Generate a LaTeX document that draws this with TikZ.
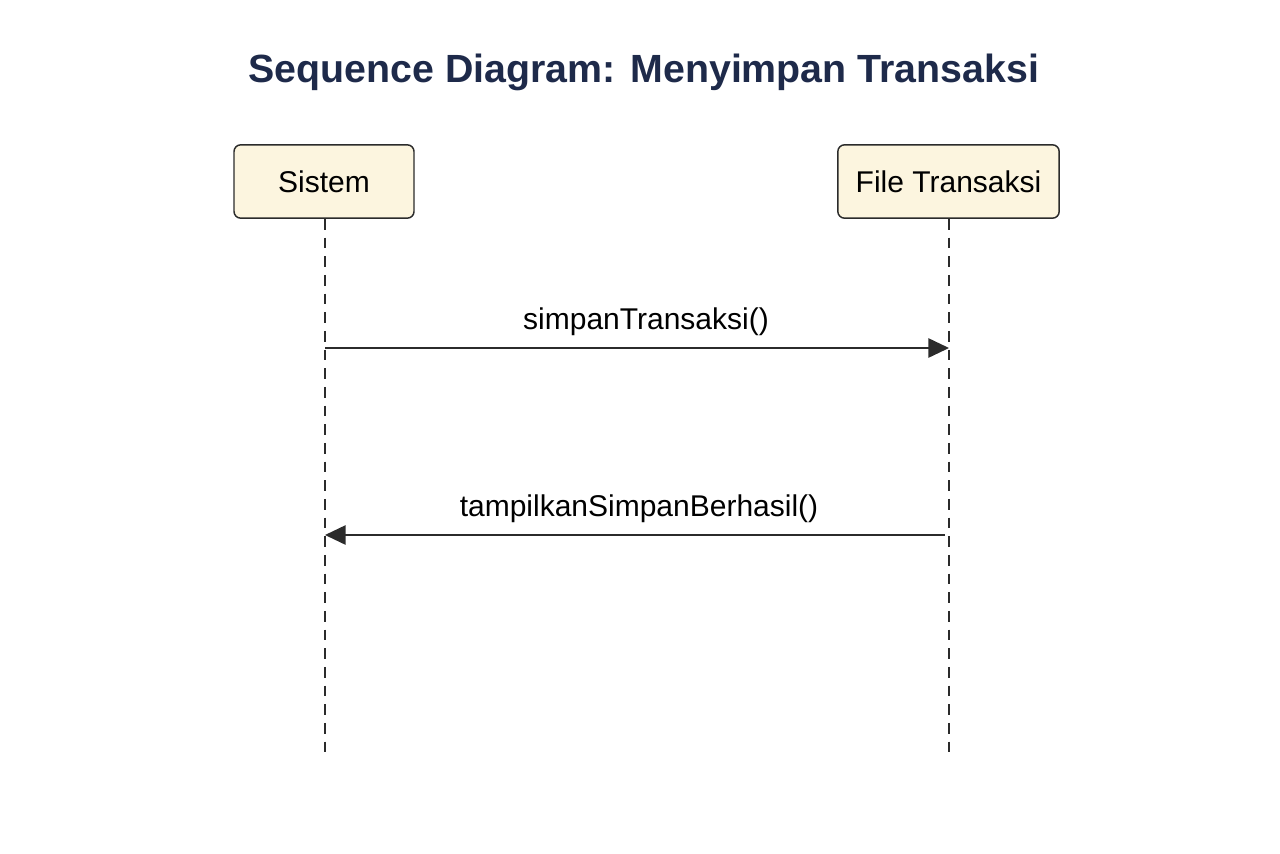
\documentclass[tikz,border=0pt]{standalone}
\usepackage{fontspec}
\setmainfont{Liberation Sans}
\usetikzlibrary{arrows.meta}
\definecolor{titleblue}{HTML}{1E2A4A}
\definecolor{boxfill}{HTML}{FCF5DF}
\definecolor{linegray}{HTML}{2B2B2B}
\begin{document}
\begin{tikzpicture}[
  x=0.75pt, y=-0.75pt,
  actor/.style={draw=linegray, line width=1.1pt, rounded corners=5pt, fill=boxfill,
                minimum width=135pt, minimum height=55pt, inner sep=0pt,
                font=\fontsize{22.5}{26}\selectfont},
  life/.style={draw=linegray, line width=1.5pt, dash pattern=on 8pt off 6pt},
  msg/.style={draw=linegray, line width=1.3pt, -{Triangle[length=15.5pt, width=14.5pt]}},
  lbl/.style={font=\fontsize{22.5}{26}\selectfont, inner sep=0pt}
]
\useasboundingbox (0,0) rectangle (1280,853);
\node[font=\bfseries\fontsize{29.5}{34}\selectfont, text=titleblue] (title) at (644,72) {Sequence Diagram: Menyimpan Transaksi};
\node[actor] (sys) at (324,181.5) {Sistem};
\node[actor, minimum width=166pt] (file) at (948.5,181.5) {File Transaksi};
% lifelines
\coordinate (sysend) at (325,752);
\coordinate (fileend) at (949,752);
\draw[life] (sys.south -| sysend) -- (sysend);
\draw[life] (file.south -| fileend) -- (fileend);
% messages
\coordinate (s1) at (325,348);
\coordinate (f1) at (949,348);
\coordinate (s2) at (325,535);
\coordinate (f2) at (945,535);
\draw[msg] (s1) -- (f1);
\node[lbl] (m1) at (646,322) {simpanTransaksi()};
\draw[msg] (f2) -- (s2);
\node[lbl] (m2) at (639,509) {tampilkanSimpanBerhasil()};
\end{tikzpicture}
\end{document}
